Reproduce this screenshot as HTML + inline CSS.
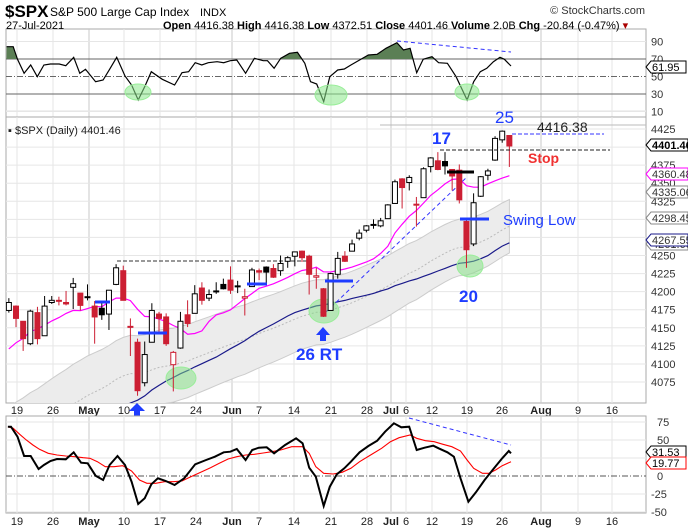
<!DOCTYPE html>
<html><head><meta charset="utf-8"><style>
html,body{margin:0;padding:0;background:#fff;}
svg{display:block;font-family:"Liberation Sans",Arial,sans-serif;}
</style></head><body>
<svg id="s" width="688" height="528" xmlns="http://www.w3.org/2000/svg"></svg>
<script>
const pre=[3773,3826,3830,3871,3886,3915,3911,3909,3916,3934,3932,3931,3914,3906,3876,3881,3925,3829,3811,3901,3870,3819,3768,3842,3821,3875,3898,3939,3943,3969,3962,3974,3915,3913,3941,3911,3889,3910,3975,3971,3959,3973,4020,4078,4074,4080,4097,4129,4128,4142,4125,4170];
const D=[[4174,4191,4171,4185],[4180,4181,4151,4163],[4159,4159,4118,4135],[4128,4175,4126,4173],[4171,4179,4127,4135],[4139,4194,4139,4180],[4185,4194,4183,4188],[4188,4193,4181,4187],[4185,4201,4181,4183],[4206,4219,4176,4211],[4198,4198,4174,4181],[4192,4210,4188,4193],[4180,4187,4128,4165],[4177,4187,4161,4168],[4169,4202,4147,4202],[4210,4238,4209,4233],[4229,4236,4188,4188],[4151,4163,4111,4152],[4130,4135,4056,4063],[4074,4131,4069,4113],[4130,4184,4130,4174],[4169,4172,4143,4163],[4165,4170,4125,4128],[4099,4118,4062,4116],[4122,4172,4121,4159],[4168,4188,4151,4156],[4170,4209,4170,4197],[4205,4213,4182,4188],[4191,4203,4187,4196],[4201,4213,4197,4201],[4210,4218,4203,4204],[4216,4235,4197,4202],[4207,4215,4198,4208],[4191,4204,4167,4193],[4207,4233,4207,4230],[4229,4232,4216,4227],[4234,4235,4209,4227],[4232,4238,4219,4220],[4229,4250,4222,4239],[4242,4249,4233,4247],[4249,4255,4235,4255],[4256,4257,4241,4247],[4249,4251,4196,4224],[4220,4233,4204,4222],[4204,4205,4165,4166],[4174,4226,4174,4225],[4224,4255,4218,4246],[4249,4256,4241,4242],[4256,4272,4256,4266],[4274,4286,4271,4281],[4285,4292,4282,4291],[4293,4300,4287,4292],[4291,4302,4289,4298],[4301,4321,4301,4320],[4322,4355,4322,4352],[4356,4357,4315,4344],[4351,4361,4340,4358],[4321,4331,4290,4321],[4330,4372,4330,4370],[4373,4386,4365,4385],[4381,4393,4368,4369],[4380,4393,4362,4374],[4369,4369,4340,4360],[4368,4376,4322,4327],[4297,4301,4233,4258],[4266,4336,4263,4323],[4332,4360,4331,4359],[4361,4370,4354,4367],[4382,4415,4381,4412],[4410,4423,4406,4422],[4416,4416.4,4372.5,4401.5]];
const C=pre.concat(D.map(d=>d[3]));const P=pre.length;const N=D.length;
const X=j=>16+(j-1)*7.15;
const Y=p=>129+(4425-p)*0.7229;
const RY=v=>59+(70-v)*0.875;
const MY=v=>476-v*0.72;
function sma(n,k){let s=0;for(let t=k-n+1;t<=k;t++)s+=C[t];return s/n;}
function ema(n){const a=2/(n+1);let e=[C[0]];for(let t=1;t<C.length;t++)e.push(a*C[t]+(1-a)*e[t-1]);return e;}
const e50=ema(50);
const RS=[15,140,30,140,40,178,55,220,70,195,85,230,100,195,115,192,135,192,150,197,168,172,182,220,195,208,218,245,235,240,250,208,266,172,285,228,300,255,315,300,330,260,345,215,370,238,398,255,415,218,430,215,445,188,460,195,475,188,495,185,510,188,525,182,540,180,560,220,580,175,600,182,610,182,625,205,640,175,660,160,678,157,695,190,708,245,722,252,738,305,752,230,770,210,785,207,800,195,820,180,840,165,860,163,880,145,905,128,920,150,935,145,950,218,965,178,985,170,1000,188,1020,190,1040,230,1065,300,1080,245,1095,215,1110,205,1125,185,1140,172,1150,178,1165,198];
const MB=[18,95,25,95,40,125,55,183,70,183,88,222,100,210,115,198,130,192,150,193,168,172,185,203,200,205,218,242,235,255,250,210,268,183,285,210,300,260,315,327,330,310,345,268,360,250,378,258,398,270,420,250,445,208,470,195,490,185,510,172,525,170,540,162,560,195,575,165,590,158,608,157,625,175,650,150,675,130,690,145,705,218,720,245,738,333,752,275,768,238,785,220,800,200,820,172,840,153,860,137,878,110,898,85,915,97,933,95,950,165,968,158,988,152,1000,160,1020,172,1035,185,1050,250,1068,320,1085,292,1105,255,1125,222,1145,190,1160,168,1165,175];
const MR=[18,95,30,100,45,118,60,135,75,150,90,163,110,175,130,180,150,183,170,185,190,188,205,190,222,200,240,215,260,215,280,212,300,228,318,255,335,265,355,265,375,260,395,260,415,258,435,245,460,230,480,218,500,205,520,192,540,185,560,180,580,178,600,174,620,170,640,165,665,155,690,155,705,175,720,215,738,235,760,237,780,232,800,220,820,200,845,180,870,160,890,140,910,128,935,120,950,130,970,137,990,140,1010,148,1030,155,1050,168,1065,195,1080,220,1100,235,1115,235,1130,225,1145,212,1165,200];
function pts(a,y0){let r=[];for(let k=0;k<a.length;k+=2)r.push((a[k]/2.28).toFixed(1)+','+(y0+a[k+1]/3).toFixed(1));return r;}
let h='';
h+='<defs><clipPath id="cm"><rect x="6" y="117" width="640" height="286"/></clipPath><clipPath id="cr"><rect x="6" y="29" width="640" height="88"/></clipPath><clipPath id="cr70"><rect x="6" y="29" width="640" height="30"/></clipPath><clipPath id="cc"><rect x="6" y="416" width="640" height="97"/></clipPath></defs>';
const vx=[17,53,89,124,160,196,232,259,294,331,367,391,406,432,467,502,541,578,612];
function grids(y0,y1){let s='';vx.forEach((x,k)=>{const m=[2,6,11,16].includes(k);s+=`<line x1="${x}" y1="${y0}" x2="${x}" y2="${y1}" stroke="${m?'#c8c8c8':'#e6e6e6'}" stroke-width="1"/>`;});return s;}
// RSI
h+=`<rect x="6" y="29" width="640" height="88" fill="#fff" stroke="#aaa"/>`+grids(29,117);
[90,10].forEach(v=>h+=`<line x1="6" x2="646" y1="${RY(v)}" y2="${RY(v)}" stroke="#e6e6e6"/>`);
[70,30].forEach(v=>h+=`<line x1="6" x2="646" y1="${RY(v)}" y2="${RY(v)}" stroke="#666"/>`);
h+=`<line x1="6" x2="646" y1="${RY(50)}" y2="${RY(50)}" stroke="#666" stroke-dasharray="6,2,1,2"/>`;
const rp=pts(RS,0);
h+=`<polygon clip-path="url(#cr70)" points="6.5,${RY(70)} ${rp.join(' ')} 511,${RY(70)}" fill="#5b7f55"/>`;
h+=`<polyline clip-path="url(#cr)" points="${rp.join(' ')}" fill="none" stroke="#000" stroke-width="1.2"/>`;
[[138,92,13,8],[331,95,16,10],[467,92,12,8]].forEach(c=>h+=`<ellipse cx="${c[0]}" cy="${c[1]}" rx="${c[2]}" ry="${c[3]}" fill="#8be88b" fill-opacity="0.55" stroke="#9e9" />`);
h+=`<line x1="397" y1="41" x2="511" y2="52" stroke="#33f" stroke-dasharray="4,3"/>`;
[90,70,50,30,10].forEach(v=>h+=`<text x="651" y="${RY(v)+4}" font-size="11" fill="#333">${v}</text>`);
h+=`<path d="M646,67 l5,-6 h35 v12 h-35z" fill="#fff" stroke="#000"/><text x="652" y="71" font-size="11">61.95</text>`;
// main
h+=`<rect x="6" y="117" width="640" height="286" fill="#fff" stroke="#aaa"/>`+grids(117,403);
for(let p=4075;p<=4450;p+=25){h+=`<line x1="6" x2="646" y1="${Y(p)}" y2="${Y(p)}" stroke="#e6e6e6"/>`;if(p<=4425)h+=`<text x="651" y="${Y(p)+4}" font-size="11" fill="#333">${p}</text>`;}
h+=`<line x1="380" x2="646" y1="125" y2="125" stroke="#bbb"/>`;
let up=[],lo=[],mid=[];for(let j=0;j<N;j++){const t=P+j;const k=58-21*j/(N-1);const m=e50[t]+14;up.push(X(j).toFixed(1)+','+Y(m+k).toFixed(1));lo.unshift(X(j).toFixed(1)+','+Y(m-k).toFixed(1));mid.push(X(j).toFixed(1)+','+Y(m).toFixed(1));}
h+=`<g clip-path="url(#cm)"><polygon points="${up.join(' ')} ${lo.join(' ')}" fill="#ececec" stroke="#ccc"/><polyline points="${mid.join(' ')}" fill="none" stroke="#bbb" stroke-dasharray="2,2"/>`;
let s10=[],s50=[];for(let j=0;j<N;j++){const t=P+j;s10.push(X(j).toFixed(1)+','+Y(sma(10,t)).toFixed(1));s50.push(X(j).toFixed(1)+','+Y(sma(50,t)).toFixed(1));}
h+=`<polyline points="${s50.join(' ')}" fill="none" stroke="#1a1a8a" stroke-width="1.2"/><polyline points="${s10.join(' ')}" fill="none" stroke="#f0f" stroke-width="1.2"/>`;
h+=`<line x1="117" y1="261" x2="310" y2="261" stroke="#333" stroke-dasharray="4,2"/>`;
h+=`<line x1="326" y1="312" x2="467" y2="177" stroke="#33f" stroke-dasharray="4,3"/>`;
[[470,266,13,11],[324,311,15,12],[181,378,15,11]].forEach(c=>h+=`<ellipse cx="${c[0]}" cy="${c[1]}" rx="${c[2]}" ry="${c[3]}" fill="#7fe07f" fill-opacity="0.5" stroke="#9e9"/>`);
for(let j=0;j<N;j++){const[o,hh,l,c]=D[j];const pc=j?D[j-1][3]:4170;const col=c<pc?'#cc1f33':'#000';const x=X(j);const fill=c<o;
h+=`<line x1="${x}" x2="${x}" y1="${Y(hh)}" y2="${Y(l)}" stroke="${col}"/>`;
const yt=Y(Math.max(o,c)),yb=Y(Math.min(o,c));h+=`<rect x="${x-2.5}" y="${yt}" width="5" height="${Math.max(yb-yt,1)}" fill="${fill?col:'#fff'}" stroke="${col}"/>`;}
h+='</g>';
[[95,110,302],[138,167,333],[247,267,284],[325,353,281]].forEach(b=>h+=`<line x1="${b[0]}" x2="${b[1]}" y1="${b[2]}" y2="${b[2]}" stroke="#1e3cff" stroke-width="3"/>`);
h+=`<line x1="447" x2="474" y1="172" y2="172" stroke="#000" stroke-width="3"/><line x1="460" x2="489" y1="219" y2="219" stroke="#1e3cff" stroke-width="3"/>`;
h+=`<line x1="440" x2="610" y1="150" y2="150" stroke="#222" stroke-dasharray="4,2"/><line x1="512" x2="604" y1="134" y2="134" stroke="#33f" stroke-dasharray="4,2"/>`;
h+=`<text x="495" y="123" font-size="17" fill="#1e3cff">25</text><text x="537" y="132" font-size="14" fill="#222">4416.38</text><text x="528" y="163" font-size="14" font-weight="bold" fill="#f03030">Stop</text><text x="432" y="144" font-size="17" font-weight="bold" fill="#1e3cff">17</text><text x="503" y="225" font-size="15" fill="#1e3cff">Swing Low</text><text x="459" y="302" font-size="17" font-weight="bold" fill="#1e3cff">20</text><text x="296" y="360" font-size="17" font-weight="bold" fill="#1e3cff">26 RT</text>`;
h+=`<path d="M323,327 l-7,8 h4 v6 h6 v-6 h4z" fill="#1e3cff"/>`;
h+=`<text x="8" y="134" font-size="11" fill="#222">▪ $SPX (Daily) 4401.46</text>`;
function tag(y,t,col,b){h+=`<path d="M646,${y} l5,-6 h37 v12 h-37z" fill="#fff" stroke="${col}"/><text x="652" y="${y+4}" font-size="11" ${b?'font-weight="bold"':''} fill="${b?'#000':'#333'}">${t}</text>`;}
tag(244,'4261.66','#888');tag(240,'4267.55','#1a1a8a');tag(218,'4298.45','#888');tag(192,'4335.06','#888');tag(174,'4360.48','#f0f');tag(145,'4401.46','#000',1);
const lb=['19','26','May','10','17','24','Jun','7','14','21','28','Jul','6','12','19','26','Aug','9','16'];
function xl(y){vx.forEach((x,k)=>{const b=['May','Jun','Jul','Aug'].includes(lb[k]);h+=`<text x="${x}" y="${y}" font-size="11" text-anchor="middle" ${b?'font-weight="bold"':''} fill="#222">${lb[k]}</text>`;});}
xl(414);
h+=`<path d="M137,403 l-8,8 h5 v8 h6 v-8 h5z" fill="#1e3cff"/><text x="118" y="444" font-size="17" font-weight="bold" fill="#1e3cff">48 RT</text>`;
// MACD
h+=`<rect x="6" y="416" width="640" height="97" fill="#fff" stroke="#aaa"/>`+grids(416,513);
[75,50,25,-25,-50].forEach(v=>h+=`<line x1="6" x2="646" y1="${MY(v)}" y2="${MY(v)}" stroke="#e6e6e6"/>`);
h+=`<line x1="6" x2="646" y1="${MY(0)}" y2="${MY(0)}" stroke="#555" stroke-dasharray="6,2,1,2"/>`;
[75,50,25,0,-25,-50].forEach(v=>h+=`<text x="${v<0?651:657}" y="${MY(v)+4}" font-size="11" fill="#333">${v}</text>`);
h+=`<g clip-path="url(#cc)"><polyline points="${pts(MR,395).join(' ')}" fill="none" stroke="#f00" stroke-width="1.1"/><polyline points="${pts(MB,395).join(' ')}" fill="none" stroke="#000" stroke-width="2"/></g>`;
h+=`<line x1="409" y1="418" x2="511" y2="445" stroke="#33f" stroke-dasharray="4,3"/>`;
h+=`<path d="M646,452 l5,-6 h35 v12 h-35z" fill="#fff" stroke="#000"/><text x="652" y="456" font-size="11">31.53</text><path d="M646,463 l5,-6 h35 v12 h-35z" fill="#fff" stroke="#f00"/><text x="652" y="467" font-size="11">19.77</text>`;
xl(525);
h+=`<text x="5" y="17" font-size="17" font-weight="bold" fill="#000">$SPX</text><text x="50" y="16" font-size="12" fill="#000">S&amp;P 500 Large Cap Index</text><text x="200" y="16" font-size="11" fill="#000">INDX</text>`;
h+=`<text x="645" y="14" font-size="11" text-anchor="end" fill="#333">© StockCharts.com</text>`;
h+=`<text x="6" y="29" font-size="11" fill="#000">27-Jul-2021</text>`;
h+=`<text x="163" y="29" font-size="11" fill="#000"><tspan font-weight="bold">Open</tspan> 4416.38 <tspan font-weight="bold">High</tspan> 4416.38 <tspan font-weight="bold">Low</tspan> 4372.51 <tspan font-weight="bold">Close</tspan> 4401.46 <tspan font-weight="bold">Volume</tspan> 2.0B <tspan font-weight="bold">Chg</tspan> -20.84 (-0.47%) <tspan fill="#a00">▾</tspan></text>`;
document.getElementById('s').innerHTML=h;
</script>
</body></html>
